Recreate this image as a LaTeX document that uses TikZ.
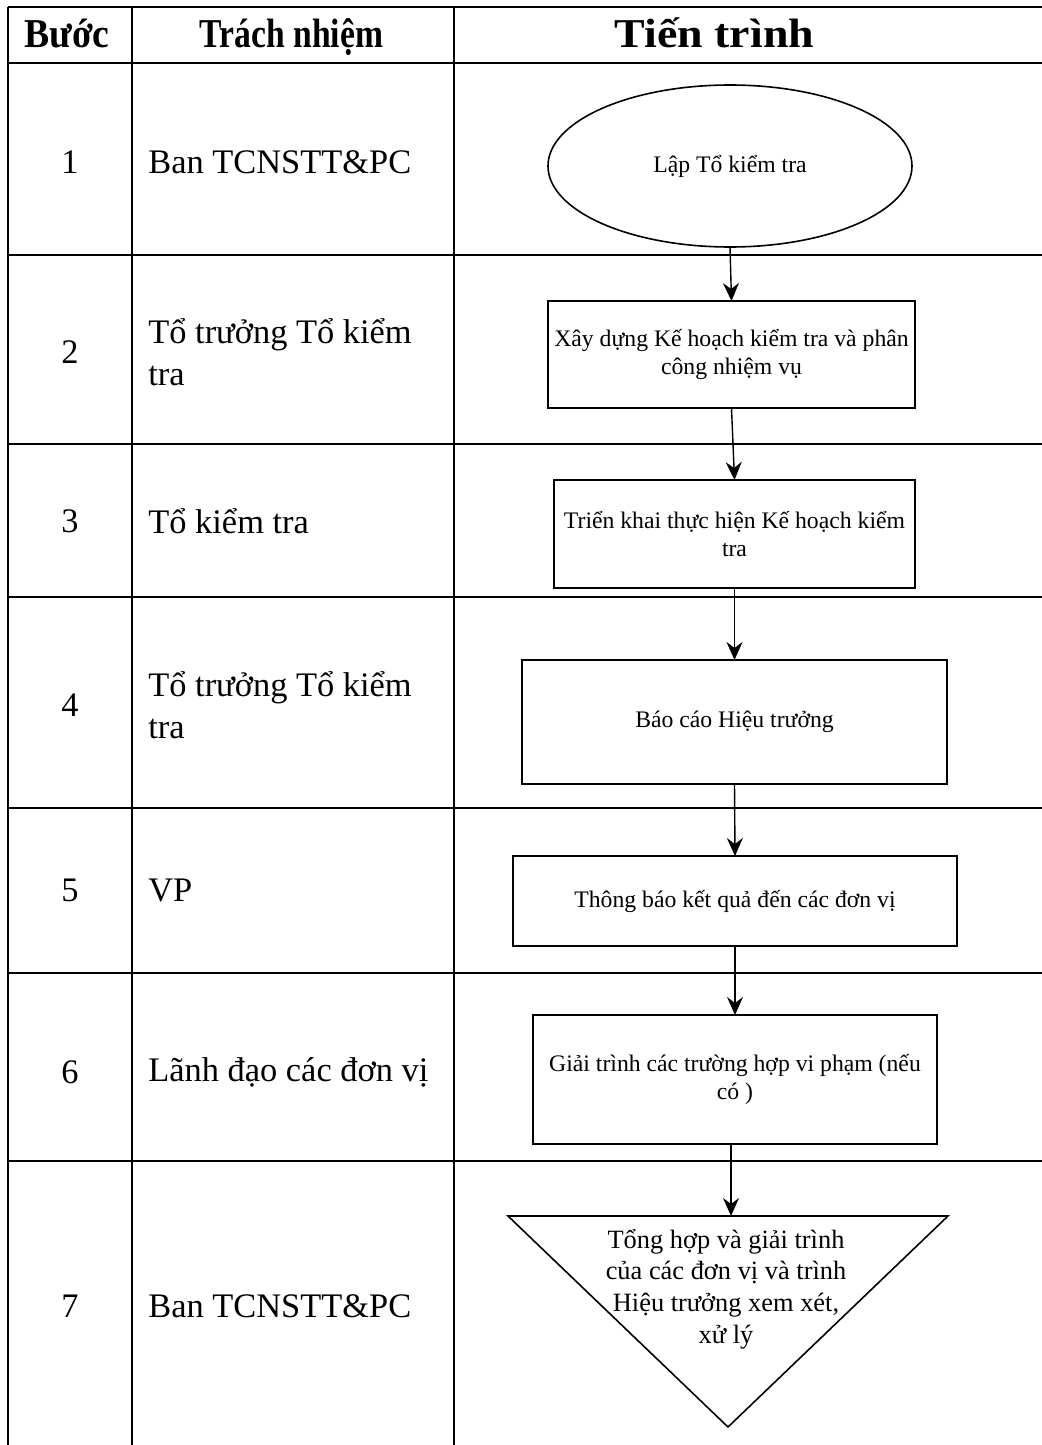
\documentclass[tikz,border=0pt]{standalone}
\usepackage{fontspec}
\setmainfont{Liberation Serif}
\usetikzlibrary{shapes.geometric,arrows.meta}
\begin{document}
\begin{tikzpicture}[x=0.5pt,y=-0.5pt,
  gridline/.style={line width=1.4pt},
  hdr/.style={font=\fontsize{20.5}{24}\selectfont\bfseries, inner sep=0, anchor=base},
  num/.style={font=\fontsize{17.2}{21}\selectfont, inner sep=0},
  who/.style={font=\fontsize{17.2}{21}\selectfont, inner sep=0, anchor=west, align=left},
  procbox/.style={draw, line width=0.8pt, rectangle, inner sep=0, outer sep=0, align=center, font=\fontsize{11.85}{14.3}\selectfont},
  startnode/.style={draw, line width=0.8pt, ellipse, inner sep=0, outer sep=0, align=center, font=\fontsize{11.85}{14.3}\selectfont},
  tritext/.style={inner sep=0, align=center, font=\fontsize{13.2}{15.8}\selectfont},
  flow/.style={-{Stealth[length=9pt,width=8pt,inset=3pt]}, line width=0.7pt}
]
\useasboundingbox (0,0) rectangle (1042,1445);
% table grid
\foreach \yy in {7,63,255,444,597,808,973,1161}
  \draw[gridline] (8,\yy) -- (1042,\yy);
\foreach \xx in {8,132,454}
  \draw[gridline] (\xx,7) -- (\xx,1445);
% header
\node[hdr] (h1) at (67,48) {\scalebox{0.92}[1]{Bước}};
\node[hdr] (h2) at (291.5,48) {\scalebox{0.82}[1]{Trách nhiệm}};
\node[hdr] (h3) at (714.5,48) {\scalebox{1.12}[1]{Tiến trình}};
% step numbers
\node[num] (n1) at (70,162) {1};
\node[num] (n2) at (70,352) {2};
\node[num] (n3) at (70,521) {3};
\node[num] (n4) at (70,705) {4};
\node[num] (n5) at (70,890) {5};
\node[num] (n6) at (70,1072) {6};
\node[num] (n7) at (70,1306) {7};
% responsibilities
\node[who] (r1) at (148,162) {Ban TCNSTT\&PC};
\node[who] (r2) at (148,352) {Tổ trưởng Tổ kiểm\\tra};
\node[who] (r3) at (148,521) {Tổ kiểm tra};
\node[who] (r4) at (148,705) {Tổ trưởng Tổ kiểm\\tra};
\node[who] (r5) at (148,890) {VP};
\node[who] (r6) at (148,1072) {Lãnh đạo các đơn vị};
\node[who] (r7) at (148,1306) {Ban TCNSTT\&PC};
% flow
\node[startnode, minimum width=182pt, minimum height=81pt] (s1) at (730,166) {Lập Tổ kiểm tra};
\node[procbox, minimum width=183.5pt, minimum height=53.5pt] (s2) at (731.5,354.5) {Xây dựng Kế hoạch kiểm tra và phân\\công nhiệm vụ};
\node[procbox, minimum width=180.5pt, minimum height=54pt] (s3) at (734.5,534) {Triển khai thực hiện Kế hoạch kiểm\\tra};
\node[procbox, minimum width=212.5pt, minimum height=62pt] (s4) at (734.5,722) {Báo cáo Hiệu trưởng};
\node[procbox, minimum width=222pt, minimum height=45pt] (s5) at (735,901) {Thông báo kết quả đến các đơn vị};
\node[procbox, minimum width=202pt, minimum height=64.5pt] (s6) at (735,1079.5) {Giải trình các trường hợp vi phạm (nếu\\có )};
\coordinate (tl) at (508,1216);
\coordinate (tr) at (948,1216);
\coordinate (tb) at (728,1427);
\coordinate (ttop) at (731,1216);
\draw[line width=0.8pt, line join=miter] (tl) -- (tr) -- (tb) -- cycle;
\node[tritext] (s7) at (726,1289) {Tổng hợp và giải trình\\của các đơn vị và trình\\Hiệu trưởng xem xét,\\xử lý};
\draw[flow] (s1.south) -- (s2.north);
\draw[flow] (s2.south) -- (s3.north);
\draw[flow] (s3.south) -- (s4.north);
\draw[flow] (s4.south) -- (s5.north);
\draw[flow] (s5.south) -- (s6.north);
\draw[flow] (s6.south -| ttop) -- (ttop);
\end{tikzpicture}
\end{document}
